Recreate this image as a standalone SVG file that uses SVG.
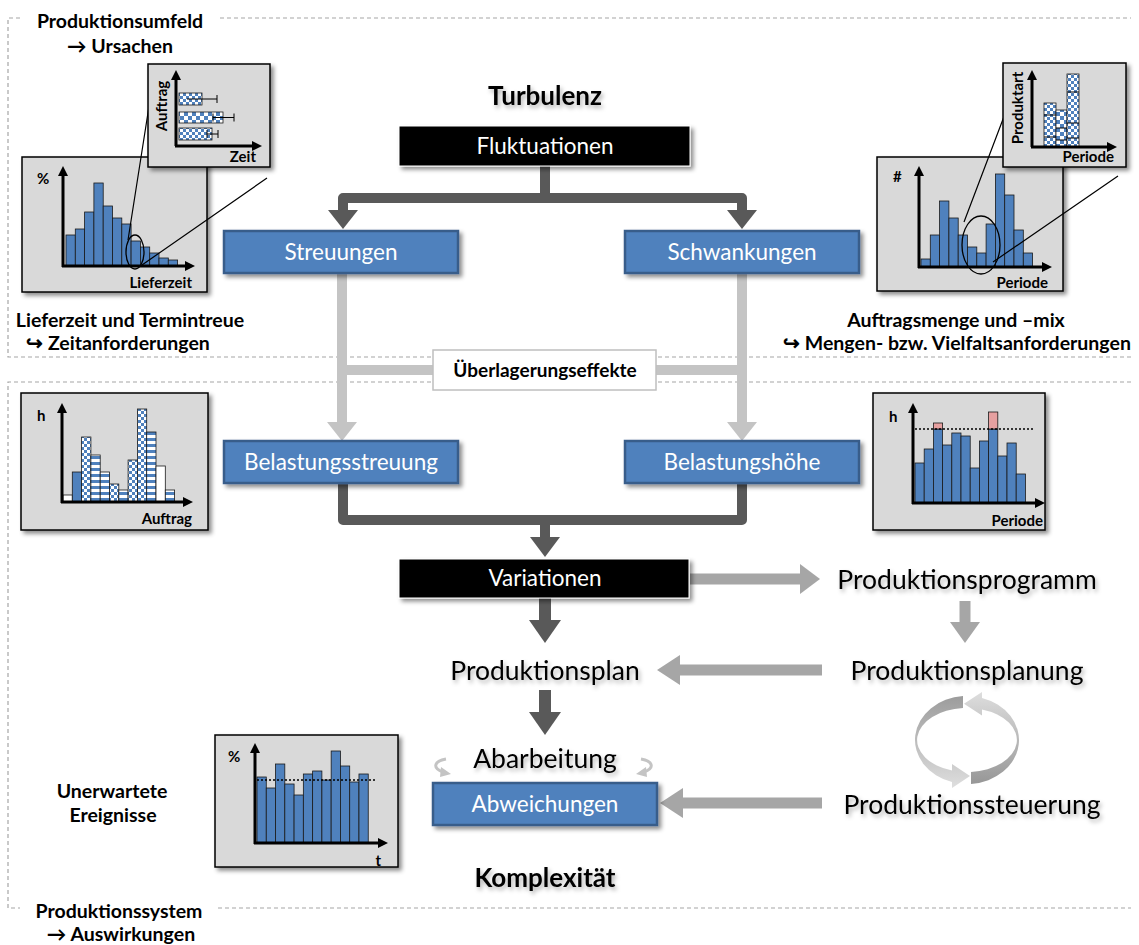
<svg xmlns="http://www.w3.org/2000/svg" width="1139" height="945" viewBox="0 0 1139 945">
<defs>
  <style>
    .frame{fill:none;stroke:#a6a6a6;stroke-width:1.2;stroke-dasharray:4 3}
    .chart{fill:#d9d9d9;stroke:#000;stroke-width:1.5}
    .bar{fill:#4f81bd;stroke:#1a1a1a;stroke-width:0.8}
    .pbar{stroke:#1a1a1a;stroke-width:0.8}
    .axis{fill:none;stroke:#000;stroke-width:3}
    .zoomline{fill:none;stroke:#000;stroke-width:1.2}
    .ell{fill:none;stroke:#000;stroke-width:1.3}
    .err{fill:none;stroke:#000;stroke-width:1}
    .dot{fill:none;stroke:#000;stroke-width:1.3;stroke-dasharray:2 2}
    .t{font-family:Lato,"Liberation Sans",Arial,sans-serif}
    .lb{font-family:Lato,"Liberation Sans",Arial,sans-serif;font-weight:bold;font-size:19.5px;fill:#000}
    .ax{font-family:Lato,"Liberation Sans",Arial,sans-serif;font-weight:bold;font-size:15px;fill:#000}
    .box-blue{fill:#4f81bd;stroke:#385d8a;stroke-width:2.5}
    .box-black{fill:#000;stroke:#fff;stroke-width:1}
    .boxtext{font-family:Lato,"Liberation Sans",Arial,sans-serif;font-size:22.5px;fill:#fff;text-anchor:middle}
    .big{font-family:Lato,"Liberation Sans",Arial,sans-serif;font-size:26.5px;fill:#000;text-anchor:middle}
    .head{font-family:Lato,"Liberation Sans",Arial,sans-serif;font-weight:bold;font-size:26px;fill:#000;text-anchor:middle}
    .dark{fill:none;stroke:#595959;stroke-width:10;stroke-linejoin:round}
    .darkh{fill:#595959}
    .light{fill:none;stroke:#c4c4c4;stroke-width:10}
    .lighth{fill:#c4c4c4}
    .mid{fill:none;stroke:#a6a6a6;stroke-width:11}
    .midh{fill:#a6a6a6}
  </style>
  <filter id="sh" x="-10%" y="-10%" width="130%" height="140%">
    <feDropShadow dx="3" dy="3" stdDeviation="2" flood-color="#000" flood-opacity="0.45"/>
  </filter>
  <filter id="tsh" x="-10%" y="-40%" width="130%" height="190%">
    <feDropShadow dx="2" dy="3" stdDeviation="2" flood-color="#000" flood-opacity="0.3"/>
  </filter>
  <pattern id="chk" width="6" height="6" patternUnits="userSpaceOnUse">
    <rect width="6" height="6" fill="#fff"/>
    <rect width="3" height="3" fill="#4f81bd"/>
    <rect x="3" y="3" width="3" height="3" fill="#4f81bd"/>
  </pattern>
  <pattern id="chk4" width="8" height="8" patternUnits="userSpaceOnUse">
    <rect width="8" height="8" fill="#fff"/>
    <rect width="4" height="4" fill="#4f81bd"/>
    <rect x="4" y="4" width="4" height="4" fill="#4f81bd"/>
  </pattern>
  <pattern id="str" width="6" height="6" patternUnits="userSpaceOnUse">
    <rect width="6" height="6" fill="#fff"/>
    <rect width="6" height="3" fill="#4f81bd"/>
  </pattern>
  <marker id="ah" viewBox="0 0 10 10" refX="0" refY="5" markerWidth="10" markerHeight="10" markerUnits="userSpaceOnUse" orient="auto">
    <path d="M0,0 L10,5 L0,10 Z" fill="#000"/>
  </marker>
  <linearGradient id="ringL" x1="0" y1="0" x2="0" y2="1">
    <stop offset="0" stop-color="#9c9c9c"/>
    <stop offset="1" stop-color="#dedede"/>
  </linearGradient>
  <linearGradient id="ringR" x1="0" y1="0" x2="0" y2="1">
    <stop offset="0" stop-color="#dedede"/>
    <stop offset="1" stop-color="#979797"/>
  </linearGradient>
</defs>

<rect width="1139" height="945" fill="#fff"/>

<!-- dashed area frames -->
<g id="frames">
  <path class="frame" d="M20,18 H8 V357 H1131 M220,18 H1131"/>
  <path class="frame" d="M1131,382 H8 V908 H20 M218,908 H1131"/>
</g>

<!-- area labels -->
<g id="area-labels">
  <text class="lb" x="120" y="28" text-anchor="middle">Produktionsumfeld</text>
  <text class="lb" x="120" y="53" text-anchor="middle">→ Ursachen</text>
  <text class="lb" x="130" y="327" text-anchor="middle">Lieferzeit und Termintreue</text>
  <text class="lb" x="118" y="350" text-anchor="middle">↪ Zeitanforderungen</text>
  <text class="lb" x="956" y="327" text-anchor="middle">Auftragsmenge und –mix</text>
  <text class="lb" x="957" y="350" text-anchor="middle">↪ Mengen- bzw. Vielfaltsanforderungen</text>
  <text class="lb" x="112" y="798" text-anchor="middle">Unerwartete</text>
  <text class="lb" x="113" y="822" text-anchor="middle">Ereignisse</text>
  <text class="lb" x="119" y="918" text-anchor="middle">Produktionssystem</text>
  <text class="lb" x="121" y="941" text-anchor="middle">→ Auswirkungen</text>
  <text class="head" x="545" y="105" filter="url(#tsh)">Turbulenz</text>
  <text class="head" x="545" y="887" filter="url(#tsh)">Komplexität</text>
</g>

<!-- delivery time distribution with zoomed order view -->
<g id="chart-lieferzeit">
  <rect class="chart" x="22" y="157" width="185" height="135" filter="url(#sh)"/>
  <rect class="bar" x="66" y="235" width="9.3" height="31"/>
  <rect class="bar" x="75.3" y="229" width="9.3" height="37"/>
  <rect class="bar" x="84.6" y="212" width="9.3" height="54"/>
  <rect class="bar" x="93.9" y="183" width="9.3" height="83"/>
  <rect class="bar" x="103.2" y="206" width="9.3" height="60"/>
  <rect class="bar" x="112.5" y="218" width="9.3" height="48"/>
  <rect class="bar" x="121.8" y="224" width="9.3" height="42"/>
  <rect class="bar" x="131.1" y="241" width="9.3" height="25"/>
  <rect class="bar" x="140.4" y="247" width="9.3" height="19"/>
  <rect class="bar" x="149.7" y="253" width="9.3" height="13"/>
  <rect class="bar" x="159" y="258" width="9.3" height="8"/>
  <rect class="bar" x="168.3" y="260" width="9.3" height="6"/>
  <path class="axis" d="M63,267 V176" marker-end="url(#ah)"/>
  <path class="axis" d="M62,266 H185" marker-end="url(#ah)"/>
  <ellipse class="ell" cx="135" cy="252" rx="9" ry="17"/>
  <path class="zoomline" d="M128,240 L150,100 M142,265 L267,178"/>
  <text class="ax" x="37" y="184">%</text>
  <text class="ax" x="192" y="288" text-anchor="end">Lieferzeit</text>

  <rect class="chart" x="148" y="64" width="122" height="103" filter="url(#sh)"/>
  <rect class="pbar" x="179" y="93" width="23" height="12" fill="url(#chk)"/>
  <rect class="pbar" x="179" y="112" width="44" height="11" fill="url(#chk4)"/>
  <rect class="pbar" x="179" y="128" width="33" height="12" fill="url(#chk)"/>
  <path class="err" d="M187,99 H217 M217,95 V103 M213,117.5 H234 M234,113.5 V121.5 M213,113.5 V121.5 M207,134 H218 M218,130 V138 M207,130 V138"/>
  <path class="axis" d="M176,146 V80" marker-end="url(#ah)"/>
  <path class="axis" d="M175,146 H252" marker-end="url(#ah)"/>
  <text class="ax" x="0" y="0" transform="translate(167,106) rotate(-90)" text-anchor="middle">Auftrag</text>
  <text class="ax" x="256" y="162" text-anchor="end">Zeit</text>
</g>

<!-- order quantity per period with zoomed product mix -->
<g id="chart-auftragsmenge">
  <rect class="chart" x="877" y="157" width="186" height="134" filter="url(#sh)"/>
  <rect class="bar" x="921" y="259" width="9.3" height="8"/>
  <rect class="bar" x="930.3" y="235" width="9.3" height="32"/>
  <rect class="bar" x="939.6" y="201" width="9.3" height="66"/>
  <rect class="bar" x="948.9" y="218" width="9.3" height="49"/>
  <rect class="bar" x="958.2" y="235" width="9.3" height="32"/>
  <rect class="bar" x="967.5" y="247" width="9.3" height="20"/>
  <rect class="bar" x="976.8" y="253" width="9.3" height="14"/>
  <rect class="bar" x="986.1" y="224" width="9.3" height="43"/>
  <rect class="bar" x="995.4" y="174" width="9.3" height="93"/>
  <rect class="bar" x="1004.7" y="195" width="9.3" height="72"/>
  <rect class="bar" x="1014" y="230" width="9.3" height="37"/>
  <rect class="bar" x="1023.3" y="253" width="9.3" height="14"/>
  <path class="axis" d="M919,268 V176" marker-end="url(#ah)"/>
  <path class="axis" d="M918,267 H1042" marker-end="url(#ah)"/>
  <ellipse class="ell" cx="981" cy="245" rx="19" ry="29"/>
  <path class="zoomline" d="M964,222 L1008,106 M993,262 L1118,176"/>
  <text class="ax" x="893" y="182">#</text>
  <text class="ax" x="1048" y="288" text-anchor="end">Periode</text>

  <rect class="chart" x="1003" y="63" width="123" height="104" filter="url(#sh)"/>
  <rect class="pbar" x="1044" y="103" width="12" height="44" fill="url(#chk)"/>
  <rect class="pbar" x="1056" y="110" width="11" height="37" fill="url(#chk4)"/>
  <rect class="pbar" x="1067" y="74" width="12" height="73" fill="url(#chk)"/>
  <path class="err" d="M1044,115 H1056 M1044,137 H1056 M1056,128 H1067 M1056,140 H1067 M1067,92 H1079 M1067,123 H1079 M1067,138 H1079"/>
  <path class="axis" d="M1032,147 V80" marker-end="url(#ah)"/>
  <path class="axis" d="M1031,147 H1107" marker-end="url(#ah)"/>
  <text class="ax" x="0" y="0" transform="translate(1023,108) rotate(-90)" text-anchor="middle">Produktart</text>
  <text class="ax" x="1114" y="162" text-anchor="end">Periode</text>
</g>

<!-- workload per order -->
<g id="chart-belastungsstreuung">
  <rect class="chart" x="21" y="393" width="187" height="137" filter="url(#sh)"/>
  <rect class="pbar" x="63" y="495" width="9.3" height="7" fill="#fff"/>
  <rect class="bar" x="72.3" y="472" width="9.3" height="30"/>
  <rect class="pbar" x="81.6" y="437" width="9.3" height="65" fill="url(#chk)"/>
  <rect class="pbar" x="90.9" y="455" width="9.3" height="47" fill="url(#str)"/>
  <rect class="pbar" x="100.2" y="472" width="9.3" height="30" fill="url(#str)"/>
  <rect class="pbar" x="109.5" y="484" width="9.3" height="18" fill="url(#chk)"/>
  <rect class="pbar" x="118.8" y="490" width="9.3" height="12" fill="url(#str)"/>
  <rect class="pbar" x="128.1" y="460" width="9.3" height="42" fill="url(#chk)"/>
  <rect class="pbar" x="137.4" y="409" width="9.3" height="93" fill="url(#chk)"/>
  <rect class="pbar" x="146.7" y="432" width="9.3" height="70" fill="url(#str)"/>
  <rect class="pbar" x="156" y="466" width="9.3" height="36" fill="#fff"/>
  <rect class="pbar" x="165.3" y="490" width="9.3" height="12" fill="url(#str)"/>
  <path class="axis" d="M62,503 V413" marker-end="url(#ah)"/>
  <path class="axis" d="M61,502 H183" marker-end="url(#ah)"/>
  <text class="ax" x="37" y="421">h</text>
  <text class="ax" x="192" y="524" text-anchor="end">Auftrag</text>
</g>

<!-- workload per period with capacity line -->
<g id="chart-belastungshoehe">
  <rect class="chart" x="873" y="393" width="172" height="137" filter="url(#sh)"/>
  <rect class="bar" x="915" y="463" width="9.2" height="40"/>
  <rect class="bar" x="924.2" y="449" width="9.2" height="54"/>
  <rect class="bar" x="933.4" y="429" width="9.2" height="74"/>
  <rect x="933.4" y="423" width="9.2" height="6" fill="#e6a0a0" stroke="#1a1a1a" stroke-width="0.8"/>
  <rect class="bar" x="942.6" y="445" width="9.2" height="58"/>
  <rect class="bar" x="951.8" y="433" width="9.2" height="70"/>
  <rect class="bar" x="961" y="436" width="9.2" height="67"/>
  <rect class="bar" x="970.2" y="468" width="9.2" height="35"/>
  <rect class="bar" x="979.4" y="441" width="9.2" height="62"/>
  <rect class="bar" x="988.6" y="429" width="9.2" height="74"/>
  <rect x="988.6" y="412" width="9.2" height="17" fill="#e6a0a0" stroke="#1a1a1a" stroke-width="0.8"/>
  <rect class="bar" x="997.8" y="456" width="9.2" height="47"/>
  <rect class="bar" x="1007" y="443" width="9.2" height="60"/>
  <rect class="bar" x="1016.2" y="474" width="9.2" height="29"/>
  <path class="dot" d="M915,429 H1033"/>
  <path class="axis" d="M913,504 V413" marker-end="url(#ah)"/>
  <path class="axis" d="M912,503 H1035" marker-end="url(#ah)"/>
  <text class="ax" x="889" y="422">h</text>
  <text class="ax" x="1043" y="526" text-anchor="end">Periode</text>
</g>

<!-- utilisation over time -->
<g id="chart-auslastung">
  <rect class="chart" x="215" y="735" width="183" height="132" filter="url(#sh)"/>
  <rect class="bar" x="257" y="777" width="9.27" height="66"/>
  <rect class="bar" x="266.27" y="788" width="9.27" height="55"/>
  <rect class="bar" x="275.54" y="764" width="9.27" height="79"/>
  <rect class="bar" x="284.81" y="784" width="9.27" height="59"/>
  <rect class="bar" x="294.08" y="795" width="9.27" height="48"/>
  <rect class="bar" x="303.35" y="774" width="9.27" height="69"/>
  <rect class="bar" x="312.62" y="771" width="9.27" height="72"/>
  <rect class="bar" x="321.89" y="780" width="9.27" height="63"/>
  <rect class="bar" x="331.16" y="751" width="9.27" height="92"/>
  <rect class="bar" x="340.43" y="766" width="9.27" height="77"/>
  <rect class="bar" x="349.7" y="782" width="9.27" height="61"/>
  <rect class="bar" x="358.97" y="774" width="9.27" height="69"/>
  <path class="dot" d="M257,780 H375"/>
  <path class="axis" d="M255,844 V753" marker-end="url(#ah)"/>
  <path class="axis" d="M254,843 H378" marker-end="url(#ah)"/>
  <text class="ax" x="228" y="762">%</text>
  <text class="ax" x="381" y="866" text-anchor="end">t</text>
</g>

<!-- connectors -->
<g id="connectors">
  <!-- Fluktuationen split -->
  <path class="dark" d="M545,166 V198 M343,211 V198 H742 V211"/>
  <polygon class="darkh" points="328,210 358,210 343,229"/>
  <polygon class="darkh" points="727,210 757,210 742,229"/>
  <!-- superposition -->
  <path class="light" d="M342,273 V423 M742,273 V423 M342,370 H742"/>
  <polygon class="lighth" points="327,422 357,422 342,441"/>
  <polygon class="lighth" points="727,422 757,422 742,441"/>
  <!-- merge to Variationen -->
  <path class="dark" d="M343,483 V520 H742 V483 M545,520 V538"/>
  <polygon class="darkh" points="530,537 560,537 545,557"/>
  <!-- Variationen onwards -->
  <path class="mid" d="M690,579 H801"/>
  <polygon class="midh" points="800,564 800,594 820,579"/>
  <path class="dark" style="stroke-width:12" d="M545,598 V621"/>
  <polygon class="darkh" points="529,620 561,620 545,643"/>
  <path class="mid" d="M965,601 V623"/>
  <polygon class="midh" points="950,622 980,622 965,643"/>
  <path class="mid" d="M822,670 H679"/>
  <polygon class="midh" points="680,655 680,685 657,670"/>
  <path class="dark" style="stroke-width:12" d="M545,690 V713"/>
  <polygon class="darkh" points="529,712 561,712 545,735"/>
  <path class="mid" d="M822,803 H682"/>
  <polygon class="midh" points="683,788 683,818 660,803"/>
  <!-- processing loop marks -->
  <path d="M446,759 C434,761 432,768 443,772" fill="none" stroke="#c4c4c4" stroke-width="3"/>
  <polygon points="441,767 451,774 440,777" fill="#c4c4c4"/>
  <path d="M641,759 C653,761 655,768 644,772" fill="none" stroke="#c4c4c4" stroke-width="3"/>
  <polygon points="646,767 636,774 647,777" fill="#c4c4c4"/>
  <!-- planning / control cycle -->
  <path fill="url(#ringL)" d="M963,696.1 A52,44 0 0 0 952,782.1 L952,788 L970,776 L952,764 L952,770.5 A50,32 0 0 1 963,708.1 Z"/>
  <path fill="url(#ringR)" d="M971,783.9 A52,44 0 0 0 982,697.9 L982,692 L964,703.7 L982,715.5 L982,709.5 A50,32 0 0 1 971,771.9 Z"/>
</g>

<!-- flow nodes -->
<g id="node-fluktuationen">
  <rect class="box-black" x="399" y="126" width="291" height="40" filter="url(#sh)"/>
  <text class="boxtext" x="545" y="154">Fluktuationen</text>
</g>
<g id="node-streuungen">
  <rect class="box-blue" x="224" y="231" width="234" height="42" filter="url(#sh)"/>
  <text class="boxtext" x="341" y="260">Streuungen</text>
</g>
<g id="node-schwankungen">
  <rect class="box-blue" x="625" y="231" width="234" height="42" filter="url(#sh)"/>
  <text class="boxtext" x="742" y="260">Schwankungen</text>
</g>
<g id="node-ueberlagerung">
  <rect x="433" y="350" width="223" height="40" fill="#fff" stroke="#bfbfbf" stroke-width="1.5"/>
  <text class="t" x="545" y="377" text-anchor="middle" font-weight="bold" font-size="19">Überlagerungseffekte</text>
</g>
<g id="node-belastungsstreuung">
  <rect class="box-blue" x="224" y="441" width="234" height="42" filter="url(#sh)"/>
  <text class="boxtext" x="341" y="470">Belastungsstreuung</text>
</g>
<g id="node-belastungshoehe">
  <rect class="box-blue" x="625" y="441" width="234" height="42" filter="url(#sh)"/>
  <text class="boxtext" x="742" y="470">Belastungshöhe</text>
</g>
<g id="node-variationen">
  <rect class="box-black" x="399" y="559" width="290" height="39" filter="url(#sh)"/>
  <text class="boxtext" x="545" y="586">Variationen</text>
</g>
<g id="node-produktionsprogramm">
  <text class="big" x="967" y="589" filter="url(#tsh)">Produktionsprogramm</text>
</g>
<g id="node-produktionsplan">
  <text class="big" x="545" y="680" filter="url(#tsh)">Produktionsplan</text>
</g>
<g id="node-produktionsplanung">
  <text class="big" x="967" y="680" filter="url(#tsh)">Produktionsplanung</text>
</g>
<g id="node-abarbeitung">
  <text class="big" x="545" y="768" filter="url(#tsh)">Abarbeitung</text>
</g>
<g id="node-abweichungen">
  <rect class="box-blue" x="433" y="783" width="224" height="42" filter="url(#sh)"/>
  <text class="boxtext" x="545" y="812">Abweichungen</text>
</g>
<g id="node-produktionssteuerung">
  <text class="big" x="972" y="814" filter="url(#tsh)">Produktionssteuerung</text>
</g>
</svg>
